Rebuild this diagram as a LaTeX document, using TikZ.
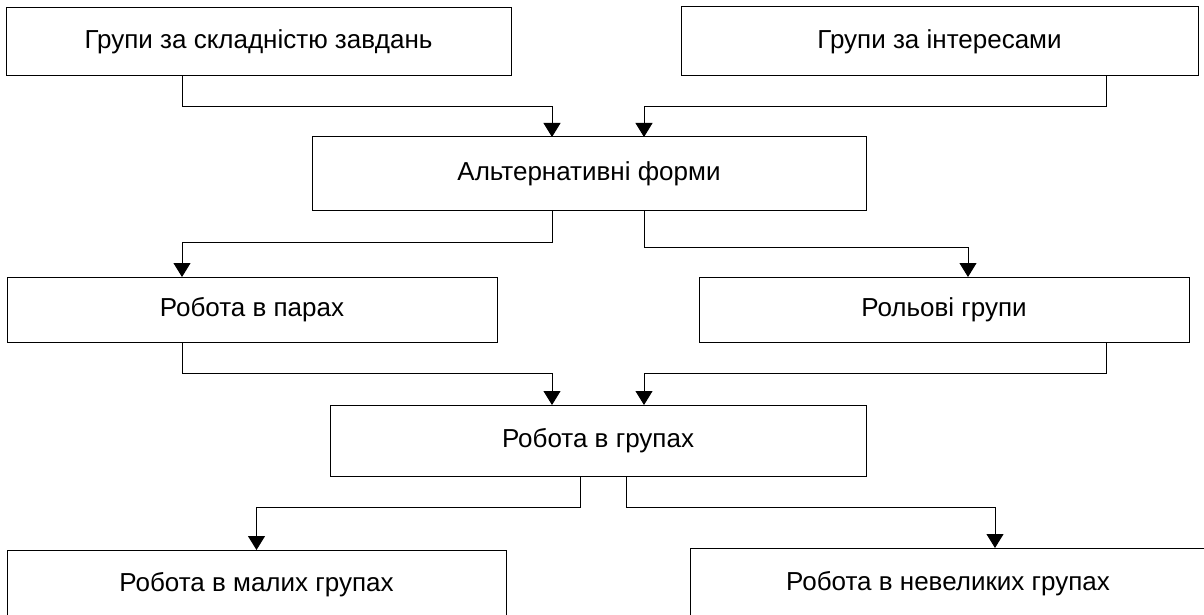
\documentclass[tikz,border=0pt]{standalone}
\usepackage{fontspec}
\setmainfont{Liberation Sans}
\usetikzlibrary{arrows.meta, calc}
\tikzset{blok/.style={draw, line width=0.5pt, inner sep=0pt, outer sep=0pt, align=center, font=\fontsize{13}{15}\selectfont}}
\tikzset{zv/.style={line width=0.5pt, -{Triangle[width=8.5pt, length=7pt]}}}

\begin{document}
\begin{tikzpicture}[x=0.5pt, y=-0.5pt]
            \useasboundingbox (0, 0) rectangle (1204, 615);
            \node[blok, minimum width=252.5pt, minimum height=34pt] (b1) at (258.5, 42) {Групи за складністю завдань};
            \node[blok, minimum width=258.5pt, minimum height=34.5pt] (b2) at (939.5, 41.5) {Групи за інтересами};
            \node[blok, minimum width=277pt, minimum height=36.5pt] (b3) at (589, 173.5) {Альтернативні форми};
            \node[blok, minimum width=245pt, minimum height=32.5pt] (b4) at (252, 309.5) {Робота в парах};
            \node[blok, minimum width=245pt, minimum height=32.5pt] (b5) at (944, 309.5) {Рольові групи};
            \node[blok, minimum width=268pt, minimum height=35.5pt] (b6) at (598, 440.5) {Робота в групах};
            \node[blok, minimum width=249.5pt, minimum height=35pt] (b7) at (256.5, 585) {Робота в малих групах};
            \node[blok, minimum width=258pt, minimum height=36pt] (b8) at (948, 584) {Робота в невеликих групах};
            \foreach \a/\da/\h/\b/\db in {b1/-76.5/31/b3/-37, b2/166.5/31/b3/55, b3/-37/32/b4/-70, b3/55/37/b5/24,
                                          b4/-70/31/b6/-46, b5/162/31/b6/46, b6/-18/31/b7/0, b6/28/31/b8/47} {
                \draw[zv] ($(\a.south) + (\da, 0)$) -- ++(0, \h) -| ($(\b.north) + (\db, 0)$);
            }
        \end{tikzpicture}
\end{document}
